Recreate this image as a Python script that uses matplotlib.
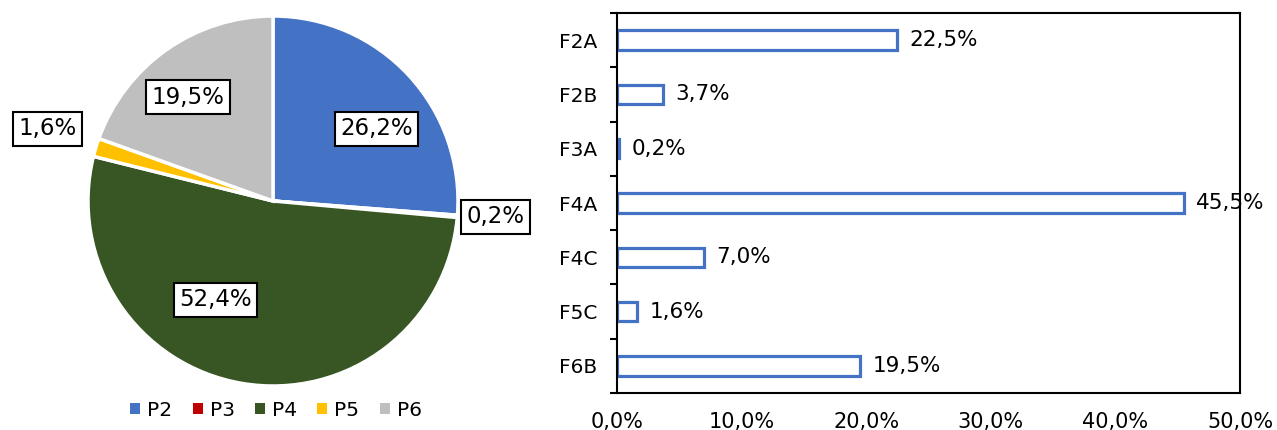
import matplotlib
matplotlib.use("Agg")
import matplotlib.pyplot as plt
from matplotlib.patches import Patch

# Pie data
pie_labels = ["P2", "P3", "P4", "P5", "P6"]
pie_values = [26.2, 0.2, 52.4, 1.6, 19.5]
pie_colors = ["#4472C4", "#C00000", "#375623", "#FFC000", "#BFBFBF"]

# Bar data
bar_categories = ["F2A", "F2B", "F3A", "F4A", "F4C", "F5C", "F6B"]
bar_values = [22.5, 3.7, 0.2, 45.5, 7.0, 1.6, 19.5]
x_ticks = [0, 10, 20, 30, 40, 50]

W, H = 1277, 430
fig = plt.figure(figsize=(W / 100, H / 100), dpi=100)
plt.rcParams["font.family"] = ["DejaVu Sans"]
FS = 15

def fmt(v, d=1):
    return f"{v:.{d}f}".replace(".", ",") + "%"

# ---- Pie ----
cx, cy, r = 273, 201, 185
ax1 = fig.add_axes([(cx - r) / W, (H - cy - r) / H, 2 * r / W, 2 * r / H])
wedges, _ = ax1.pie(pie_values, colors=pie_colors, startangle=90, counterclock=False,
                    wedgeprops=dict(edgecolor="white", linewidth=2.5))
ax1.set_xlim(-1, 1)
ax1.set_ylim(-1, 1)
ax1.set_aspect("equal")
ax1.axis("off")

label_pos = [(0.56, 0.39), (1.205, -0.086), (-0.31, -0.535), (-1.22, 0.39), (-0.46, 0.56)]
for v, (lx, ly) in zip(pie_values, label_pos):
    ax1.text(lx, ly, fmt(v), ha="center", va="center", fontsize=16.5, clip_on=False,
             bbox=dict(boxstyle="square,pad=0.24", fc="white", ec="black", lw=1.5))

handles = [Patch(facecolor=c, edgecolor="none") for c in pie_colors]
fig.legend(handles, pie_labels, loc="center", bbox_to_anchor=(276 / W, 1 - 410 / H),
           ncol=5, frameon=False, fontsize=14.5, handlelength=0.5, handleheight=0.5,
           handletextpad=0.35, columnspacing=1.0)

# ---- Bars ----
left, right, top, bottom = 617, 1240, 13, 393
ax2 = fig.add_axes([left / W, 1 - bottom / H, (right - left) / W, (bottom - top) / H])
ypos = list(range(len(bar_categories)))
ax2.barh(ypos, bar_values, height=0.36, color="white", edgecolor="#4472C4", linewidth=2.3)
ax2.set_ylim(len(bar_categories) - 0.5, -0.5)
ax2.set_xlim(0, 50)
ax2.set_yticks(ypos)
ax2.set_yticklabels(bar_categories, fontsize=14.5)
ax2.tick_params(axis="y", length=0, pad=14)
ax2.set_yticks([i + 0.5 for i in range(-1, len(bar_categories))], minor=True)
ax2.tick_params(axis="y", which="minor", length=5, width=1.5, direction="out")
ax2.set_xticks(x_ticks)
ax2.set_xticklabels([fmt(t) for t in x_ticks], fontsize=FS)
ax2.tick_params(axis="x", length=0, pad=14)
for s in ax2.spines.values():
    s.set_linewidth(1.5)
    s.set_color("black")
for y, v in zip(ypos, bar_values):
    ax2.text(v + 1.0, y, fmt(v), va="center", ha="left", fontsize=15.5, clip_on=False)

fig.savefig("out.png", dpi=100)
